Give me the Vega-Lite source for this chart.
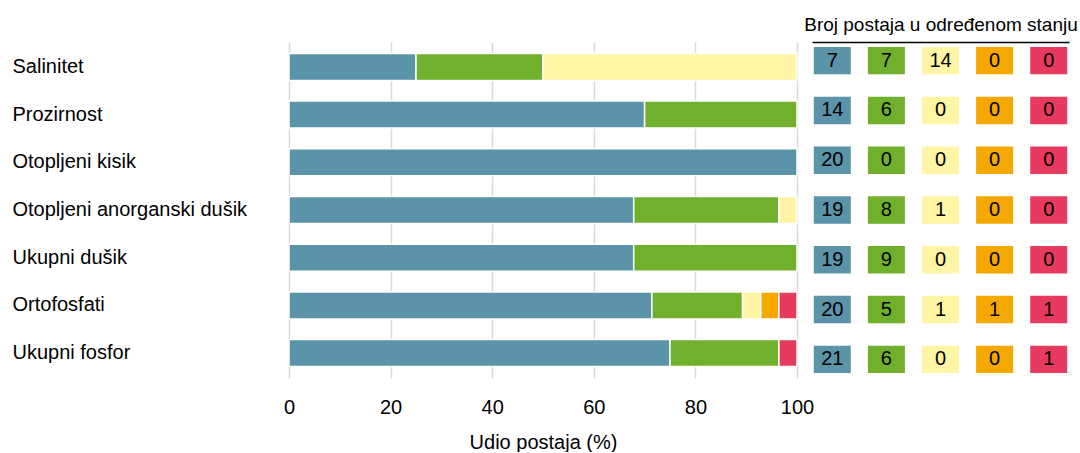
{
  "$schema": "https://vega.github.io/schema/vega-lite/v6.json",
  "padding": {"left": 12, "top": 15, "right": 0, "bottom": 0},
  "background": "white",
  "bounds": "flush",
  "spacing": 15,
  "config": {
    "font": "Liberation Sans, Arial",
    "view": {"stroke": null},
    "axis": {"labelFontSize": 20, "titleFontSize": 20, "labelColor": "black", "titleColor": "black", "titleFontWeight": "normal"}
  },
  "datasets": {
    "d": [
      {"parametar": "Salinitet", "stanje": "vrlo dobro", "rang": 1, "broj": 7},
      {"parametar": "Salinitet", "stanje": "dobro", "rang": 2, "broj": 7},
      {"parametar": "Salinitet", "stanje": "umjereno", "rang": 3, "broj": 14},
      {"parametar": "Salinitet", "stanje": "loše", "rang": 4, "broj": 0},
      {"parametar": "Salinitet", "stanje": "vrlo loše", "rang": 5, "broj": 0},
      {"parametar": "Prozirnost", "stanje": "vrlo dobro", "rang": 1, "broj": 14},
      {"parametar": "Prozirnost", "stanje": "dobro", "rang": 2, "broj": 6},
      {"parametar": "Prozirnost", "stanje": "umjereno", "rang": 3, "broj": 0},
      {"parametar": "Prozirnost", "stanje": "loše", "rang": 4, "broj": 0},
      {"parametar": "Prozirnost", "stanje": "vrlo loše", "rang": 5, "broj": 0},
      {"parametar": "Otopljeni kisik", "stanje": "vrlo dobro", "rang": 1, "broj": 20},
      {"parametar": "Otopljeni kisik", "stanje": "dobro", "rang": 2, "broj": 0},
      {"parametar": "Otopljeni kisik", "stanje": "umjereno", "rang": 3, "broj": 0},
      {"parametar": "Otopljeni kisik", "stanje": "loše", "rang": 4, "broj": 0},
      {"parametar": "Otopljeni kisik", "stanje": "vrlo loše", "rang": 5, "broj": 0},
      {"parametar": "Otopljeni anorganski dušik", "stanje": "vrlo dobro", "rang": 1, "broj": 19},
      {"parametar": "Otopljeni anorganski dušik", "stanje": "dobro", "rang": 2, "broj": 8},
      {"parametar": "Otopljeni anorganski dušik", "stanje": "umjereno", "rang": 3, "broj": 1},
      {"parametar": "Otopljeni anorganski dušik", "stanje": "loše", "rang": 4, "broj": 0},
      {"parametar": "Otopljeni anorganski dušik", "stanje": "vrlo loše", "rang": 5, "broj": 0},
      {"parametar": "Ukupni dušik", "stanje": "vrlo dobro", "rang": 1, "broj": 19},
      {"parametar": "Ukupni dušik", "stanje": "dobro", "rang": 2, "broj": 9},
      {"parametar": "Ukupni dušik", "stanje": "umjereno", "rang": 3, "broj": 0},
      {"parametar": "Ukupni dušik", "stanje": "loše", "rang": 4, "broj": 0},
      {"parametar": "Ukupni dušik", "stanje": "vrlo loše", "rang": 5, "broj": 0},
      {"parametar": "Ortofosfati", "stanje": "vrlo dobro", "rang": 1, "broj": 20},
      {"parametar": "Ortofosfati", "stanje": "dobro", "rang": 2, "broj": 5},
      {"parametar": "Ortofosfati", "stanje": "umjereno", "rang": 3, "broj": 1},
      {"parametar": "Ortofosfati", "stanje": "loše", "rang": 4, "broj": 1},
      {"parametar": "Ortofosfati", "stanje": "vrlo loše", "rang": 5, "broj": 1},
      {"parametar": "Ukupni fosfor", "stanje": "vrlo dobro", "rang": 1, "broj": 21},
      {"parametar": "Ukupni fosfor", "stanje": "dobro", "rang": 2, "broj": 6},
      {"parametar": "Ukupni fosfor", "stanje": "umjereno", "rang": 3, "broj": 0},
      {"parametar": "Ukupni fosfor", "stanje": "loše", "rang": 4, "broj": 0},
      {"parametar": "Ukupni fosfor", "stanje": "vrlo loše", "rang": 5, "broj": 1}
    ]
  },
  "hconcat": [
    {
      "width": 508,
      "height": 336,
      "data": {"name": "d"},
      "transform": [{"filter": "datum.broj > 0"}],
      "mark": {"type": "bar", "stroke": "white", "strokeWidth": 1.5},
      "encoding": {
        "y": {
          "field": "parametar", "type": "nominal",
          "sort": ["Salinitet", "Prozirnost", "Otopljeni kisik", "Otopljeni anorganski dušik", "Ukupni dušik", "Ortofosfati", "Ukupni fosfor"],
          "scale": {"paddingInner": 0.434, "paddingOuter": 0.239},
          "axis": {"title": null, "labelAlign": "left", "labelPadding": 277, "ticks": false, "domain": false, "grid": false, "labelLimit": 300}
        },
        "x": {
          "field": "broj", "type": "quantitative", "stack": "normalize",
          "scale": {"domain": [0, 1], "nice": false},
          "axis": {"title": "Udio postaja (%)", "values": [0, 0.2, 0.4, 0.6, 0.8, 1], "labelExpr": "format(datum.value*100, 'd')", "grid": true, "gridColor": "#D9D9D9", "gridWidth": 1.5, "ticks": false, "domain": false, "labelPadding": 19, "titlePadding": 15, "labelFlush": false}
        },
        "color": {
          "field": "stanje", "type": "nominal",
          "scale": {"domain": ["vrlo dobro", "dobro", "umjereno", "loše", "vrlo loše"], "range": ["#5B93A8", "#70B02D", "#FFF5A5", "#F5A800", "#E63B5E"]},
          "legend": null
        },
        "order": {"field": "rang", "type": "quantitative"}
      }
    },
    {
      "width": 257,
      "height": 336,
      "data": {"name": "d"},
      "encoding": {
        "x": {
          "field": "stanje", "type": "nominal",
          "sort": ["vrlo dobro", "dobro", "umjereno", "loše", "vrlo loše"],
          "scale": {"paddingInner": 0.316, "paddingOuter": 0.033},
          "axis": {"orient": "top", "title": "Broj postaja u određenom stanju", "titleFontSize": 19, "labels": false, "ticks": false, "domain": true, "domainColor": "black", "domainWidth": 1.5, "titlePadding": 8, "grid": false}
        },
        "y": {
          "field": "parametar", "type": "nominal",
          "sort": ["Salinitet", "Prozirnost", "Otopljeni kisik", "Otopljeni anorganski dušik", "Ukupni dušik", "Ortofosfati", "Ukupni fosfor"],
          "scale": {"paddingInner": 0.448, "paddingOuter": 0.098},
          "axis": null
        }
      },
      "layer": [
        {
          "mark": {"type": "rect"},
          "encoding": {
            "color": {"field": "stanje", "type": "nominal", "legend": null}
          }
        },
        {
          "mark": {"type": "text", "fontSize": 20, "color": "black"},
          "encoding": {"text": {"field": "broj", "type": "quantitative"}}
        }
      ]
    }
  ]
}
